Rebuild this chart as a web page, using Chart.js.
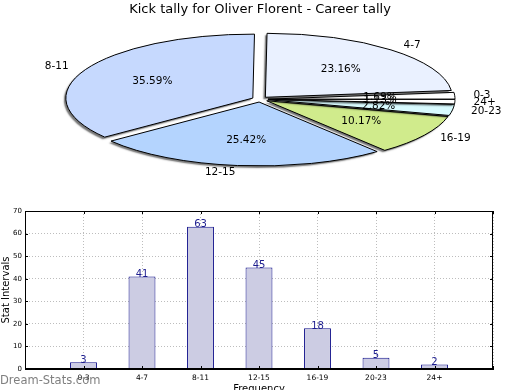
<!DOCTYPE html>
<html>
<head>
<meta charset="utf-8">
<script src="https://cdn.jsdelivr.net/npm/chart.js@4"></script>
<style>
  html, body { margin: 0; padding: 0; background: #fff; overflow: hidden; }
  #wrap { position: relative; width: 520px; height: 390px; overflow: hidden; }
  #pieBox { position: absolute; left: 0; top: 0; width: 520px; height: 200px; }
  #barBox { position: absolute; left: 0; top: 200px; width: 520px; height: 200px; }
</style>
</head>
<body>
<div id="wrap">
  <div id="pieBox"><canvas id="pieChart" width="520" height="200"></canvas></div>
  <div id="barBox"><canvas id="barChart" width="520" height="200"></canvas></div>
</div>
<script>
// --- DATA ---
const chartTitle = 'Kick tally for Oliver Florent - Career tally';
const ranges = ['0-3', '4-7', '8-11', '12-15', '16-19', '20-23', '24+'];
const kicks = [3, 41, 63, 45, 18, 5, 2];
const yTicks = [0, 10, 20, 30, 40, 50, 60, 70];
const xTitle = 'Frequency';
const yTitle = 'Stat Intervals';
const watermark = 'Dream-Stats.com';

const FONT = '"DejaVu Sans", sans-serif';
const pieColors = ['#ffffff', '#eaf1ff', '#c6d9fe', '#b4d4fe', '#d0eb8c', '#d9fbff', '#ffffff'];

const total = kicks.reduce((a, b) => a + b, 0);
const pctLabels = kicks.map(v => (v / total * 100).toFixed(2) + '%');

// --- PIE: squashed, exploded wedges with shadow ---
const squashPie = {
    id: 'squashPie',
    beforeDatasetsDraw(chart, args, opts) {
        const ctx = chart.ctx;
        const arcs = chart.getDatasetMeta(0).data;
        const cx = arcs[0].x, cy = arcs[0].y;

        // stroke in device space so the outline keeps an even width
        const stroke = ctx.stroke;
        ctx.stroke = function () {
            this.save();
            this.setTransform(1, 0, 0, 1, 0, 0);
            this.shadowColor = 'rgba(0,0,0,0)';
            stroke.call(this);
            this.restore();
        };
        arcs.forEach(el => {
            const mid = (el.startAngle + el.endAngle) / 2;
            ctx.save();
            ctx.translate(cx, cy);
            ctx.scale(1, -opts.squash);
            ctx.translate(opts.explode * Math.cos(mid) - cx, opts.explode * Math.sin(mid) - cy);
            ctx.shadowColor = 'rgba(0,0,0,0.55)';
            ctx.shadowOffsetX = -2;
            ctx.shadowOffsetY = 2;
            ctx.shadowBlur = 1.5;
            el.draw(ctx, chart.chartArea);
            ctx.restore();
        });
        delete ctx.stroke;

        // category labels and percentages
        ctx.save();
        ctx.font = '10.5px ' + FONT;
        ctx.fillStyle = '#000';
        ctx.textBaseline = 'middle';
        arcs.forEach((el, i) => {
            const mid = (el.startAngle + el.endAngle) / 2;
            const c = Math.cos(mid), s = Math.sin(mid);
            const lr = opts.explode + el.outerRadius * 1.1;
            ctx.textAlign = c >= 0 ? 'left' : 'right';
            ctx.fillText(chart.data.labels[i], cx + lr * c, cy - opts.squash * lr * s);
        });
        arcs.forEach((el, i) => {
            const mid = (el.startAngle + el.endAngle) / 2;
            const pr = opts.explode + el.outerRadius * 0.6;
            ctx.textAlign = 'center';
            ctx.fillText(pctLabels[i], cx + pr * Math.cos(mid), cy - opts.squash * pr * Math.sin(mid));
        });
        ctx.restore();
        return false;
    }
};

new Chart(document.getElementById('pieChart'), {
    type: 'pie',
    data: {
        labels: ranges,
        datasets: [{ data: kicks, backgroundColor: pieColors, borderColor: '#000', borderWidth: 1 }]
    },
    options: {
        responsive: false,
        animation: false,
        rotation: 90,
        radius: 187,
        layout: { padding: { top: 0, bottom: 19 } },
        plugins: {
            legend: { display: false },
            tooltip: { enabled: false },
            title: {
                display: true, text: chartTitle, color: '#000',
                font: { family: FONT, size: 13, weight: 'normal' },
                padding: { top: 2, bottom: 0 }
            },
            squashPie: { squash: 0.342, explode: 8 }
        }
    },
    plugins: [squashPie]
});

// --- BAR: value labels, full frame, inward ticks, watermark ---
const barExtras = {
    id: 'barExtras',
    afterDatasetsDraw(chart) {
        const ctx = chart.ctx;
        const meta = chart.getDatasetMeta(0);
        const data = chart.data.datasets[0].data;
        ctx.save();
        ctx.font = '10px ' + FONT;
        ctx.fillStyle = '#1c1c8e';
        ctx.textAlign = 'center';
        ctx.textBaseline = 'alphabetic';
        meta.data.forEach((bar, i) => {
            if (data[i] == null) return;
            ctx.fillText(String(data[i]), bar.x, bar.y + 0.5);
        });
        ctx.restore();
    },
    afterDraw(chart) {
        const ctx = chart.ctx;
        const a = chart.chartArea;
        const xs = chart.scales.x, ys = chart.scales.y;
        ctx.save();
        ctx.strokeStyle = '#000';
        ctx.lineWidth = 1;
        ctx.strokeRect(a.left + 0.5, a.top + 0.5, a.right - a.left - 1, a.bottom - a.top - 1);
        ctx.beginPath();
        xs.ticks.forEach((t, i) => {
            const x = Math.round(xs.getPixelForTick(i)) + 0.5;
            ctx.moveTo(x, a.top); ctx.lineTo(x, a.top + 3);
            ctx.moveTo(x, a.bottom); ctx.lineTo(x, a.bottom - 3);
        });
        ys.ticks.forEach((t, i) => {
            const y = Math.round(ys.getPixelForTick(i)) + 0.5;
            ctx.moveTo(a.left, y); ctx.lineTo(a.left + 3, y);
            ctx.moveTo(a.right, y); ctx.lineTo(a.right - 3, y);
        });
        ctx.stroke();
        ctx.font = '11.5px ' + FONT;
        ctx.fillStyle = 'rgba(120,120,120,0.95)';
        ctx.textAlign = 'left';
        ctx.textBaseline = 'alphabetic';
        ctx.fillText(watermark, 0, 184);
        ctx.restore();
    }
};

new Chart(document.getElementById('barChart'), {
    type: 'bar',
    data: {
        labels: ['', ...ranges, ''],
        datasets: [{
            data: [null, ...kicks, null],
            backgroundColor: '#ccccE3',
            borderColor: '#10108a',
            borderWidth: 1,
            borderSkipped: 'bottom',
            barPercentage: 0.46,
            categoryPercentage: 1
        }]
    },
    options: {
        responsive: false,
        animation: false,
        layout: { padding: { top: 11, right: 27, left: 0, bottom: 0 } },
        plugins: { legend: { display: false }, tooltip: { enabled: false } },
        scales: {
            x: {
                offset: false,
                grid: { offset: false, color: '#bdbdbd', drawTicks: false },
                border: { color: '#000', dash: [1, 2] },
                ticks: { font: { family: FONT, size: 7.5 }, color: '#000', padding: 5, autoSkip: false, maxRotation: 0 },
                title: { display: true, text: xTitle, color: '#000', font: { family: FONT, size: 10 }, padding: { top: 0, bottom: 5 } },
                afterFit(scale) { scale.height = 31; }
            },
            y: {
                min: yTicks[0],
                max: yTicks[yTicks.length - 1],
                grid: { color: '#bdbdbd', drawTicks: false },
                border: { color: '#000', dash: [1, 2] },
                ticks: { stepSize: yTicks[1] - yTicks[0], font: { family: FONT, size: 7 }, color: '#000', padding: 3 },
                title: { display: true, text: yTitle, color: '#000', font: { family: FONT, size: 10 }, padding: { top: 0, bottom: 0 } },
                afterFit(scale) { scale.width = 25; }
            }
        }
    },
    plugins: [barExtras]
});
</script>
</body>
</html>
